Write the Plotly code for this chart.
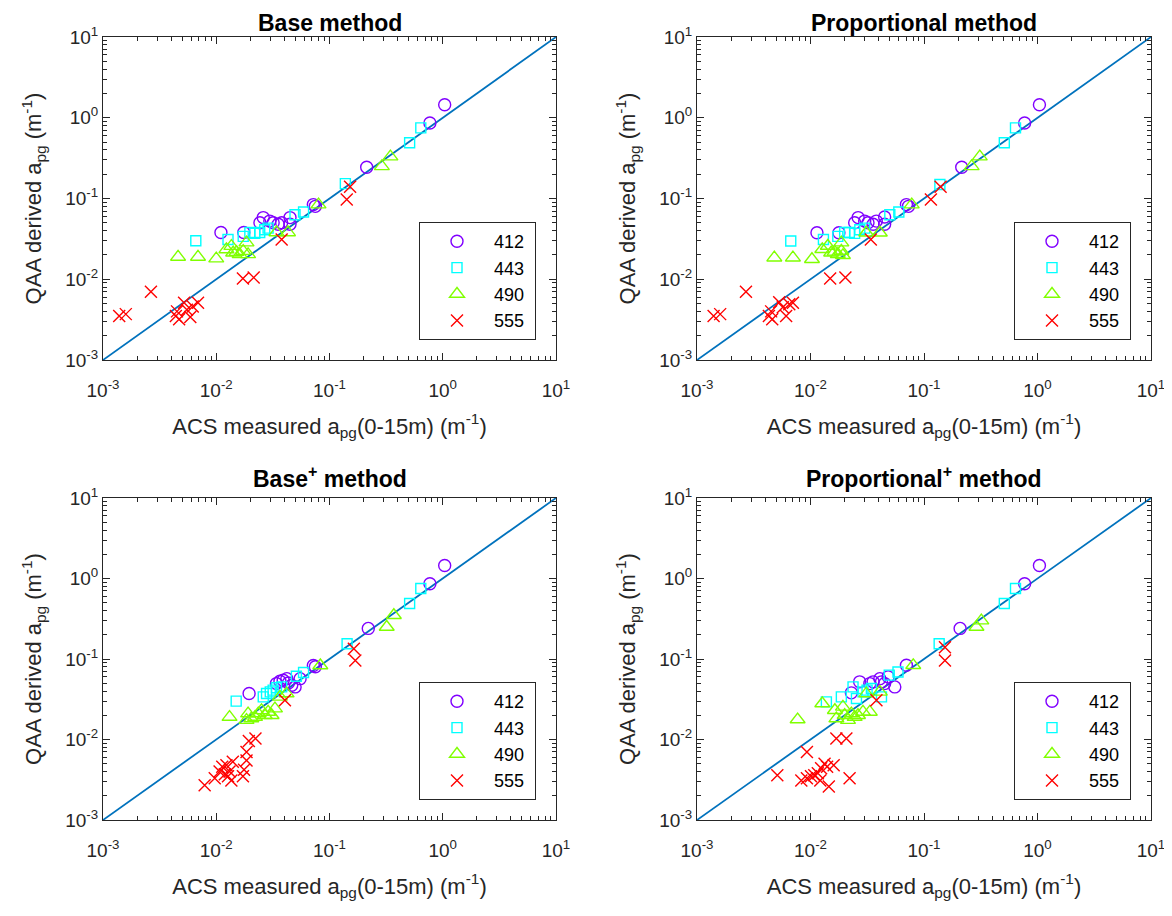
import plotly.graph_objects as go

# ---------------- data ----------------
wavelengths = ["412", "443", "490", "555"]
titles = ["Base method", "Proportional method", "Base<sup>+</sup> method", "Proportional<sup>+</sup> method"]
one_to_one = [0.001, 10]
decade_ticks = [0.001, 0.01, 0.1, 1, 10]
decade_labels = ["10<sup>-3</sup>", "10<sup>-2</sup>", "10<sup>-1</sup>", "10<sup>0</sup>", "10<sup>1</sup>"]

# Panel 1: Base method
base_412_x = [0.011, 0.0175, 0.0243, 0.026, 0.0297, 0.0318, 0.0352, 0.0378, 0.0448, 0.0448, 0.072, 0.075, 0.213, 0.77, 1.04]
base_412_y = [0.038, 0.038, 0.050, 0.058, 0.0525, 0.050, 0.048, 0.050, 0.058, 0.048, 0.084, 0.080, 0.244, 0.86, 1.45]
base_443_x = [0.0066, 0.0127, 0.0173, 0.0198, 0.0219, 0.0242, 0.0268, 0.0287, 0.0496, 0.059, 0.138, 0.51, 0.64]
base_443_y = [0.030, 0.031, 0.034, 0.038, 0.037, 0.038, 0.041, 0.043, 0.063, 0.068, 0.153, 0.49, 0.75]
base_490_x = [0.0046, 0.0069, 0.010, 0.0123, 0.0136, 0.0141, 0.0151, 0.0161, 0.0173, 0.0185, 0.0191, 0.034, 0.043, 0.08, 0.29, 0.345]
base_490_y = [0.0189, 0.0189, 0.018, 0.0234, 0.0257, 0.0213, 0.0217, 0.0203, 0.0223, 0.0284, 0.0203, 0.038, 0.038, 0.084, 0.25, 0.33]
base_555_x = [0.00139, 0.00159, 0.00265, 0.0044, 0.0047, 0.0045, 0.0052, 0.0055, 0.0059, 0.0062, 0.0069, 0.0172, 0.0214, 0.0378, 0.142, 0.152]
base_555_y = [0.0035, 0.0037, 0.0070, 0.0035, 0.0032, 0.0040, 0.0051, 0.0042, 0.0034, 0.0046, 0.0051, 0.0102, 0.0105, 0.031, 0.097, 0.14]

# Panel 2: Proportional method
prop_412_x = [0.0114, 0.0178, 0.0263, 0.0245, 0.030, 0.0321, 0.0356, 0.038, 0.045, 0.045, 0.070, 0.073, 0.215, 0.77, 1.04]
prop_412_y = [0.0377, 0.0377, 0.058, 0.050, 0.0525, 0.050, 0.048, 0.0525, 0.059, 0.048, 0.084, 0.080, 0.244, 0.86, 1.45]
prop_443_x = [0.0067, 0.0130, 0.0174, 0.020, 0.022, 0.0245, 0.0272, 0.030, 0.050, 0.060, 0.138, 0.51, 0.64]
prop_443_y = [0.0298, 0.031, 0.034, 0.038, 0.038, 0.037, 0.041, 0.043, 0.063, 0.068, 0.149, 0.49, 0.75]
prop_490_x = [0.0048, 0.0070, 0.0103, 0.0127, 0.0142, 0.0152, 0.0163, 0.0174, 0.0187, 0.0187, 0.0193, 0.031, 0.0408, 0.078, 0.263, 0.31]
prop_490_y = [0.0185, 0.0185, 0.0177, 0.0235, 0.0258, 0.0213, 0.0218, 0.0204, 0.0224, 0.0284, 0.0198, 0.0377, 0.0377, 0.084, 0.25, 0.33]
prop_555_x = [0.0014, 0.0016, 0.0027, 0.0043, 0.0046, 0.0045, 0.0053, 0.0057, 0.0061, 0.0065, 0.0070, 0.0149, 0.0203, 0.034, 0.115, 0.14]
prop_555_y = [0.0035, 0.0037, 0.0070, 0.0035, 0.0032, 0.0040, 0.0052, 0.0045, 0.0035, 0.0049, 0.0051, 0.0102, 0.0105, 0.031, 0.097, 0.14]

# Panel 3: Base+ method
basep_412_x = [0.0195, 0.034, 0.0365, 0.039, 0.042, 0.0433, 0.0464, 0.0497, 0.055, 0.072, 0.075, 0.22, 0.77, 1.04]
basep_412_y = [0.0372, 0.0495, 0.0529, 0.0544, 0.057, 0.0504, 0.0472, 0.045, 0.057, 0.083, 0.080, 0.24, 0.86, 1.45]
basep_443_x = [0.015, 0.026, 0.0278, 0.030, 0.0318, 0.034, 0.0378, 0.051, 0.059, 0.143, 0.51, 0.64]
basep_443_y = [0.030, 0.0338, 0.0372, 0.039, 0.041, 0.044, 0.045, 0.061, 0.068, 0.155, 0.49, 0.75]
basep_490_x = [0.0131, 0.0191, 0.0185, 0.0204, 0.022, 0.0235, 0.0251, 0.0268, 0.0287, 0.0308, 0.033, 0.0365, 0.0418, 0.083, 0.32, 0.37]
basep_490_y = [0.019, 0.021, 0.0174, 0.0182, 0.019, 0.021, 0.023, 0.020, 0.022, 0.020, 0.0242, 0.0338, 0.0372, 0.083, 0.25, 0.35]
basep_555_x = [0.0079, 0.0097, 0.0107, 0.0113, 0.0119, 0.0123, 0.0127, 0.0131, 0.0136, 0.014, 0.0172, 0.0176, 0.0185, 0.0185, 0.0194, 0.0222, 0.0404, 0.164, 0.169]
basep_555_y = [0.0027, 0.0033, 0.0040, 0.0046, 0.0037, 0.0048, 0.0035, 0.0040, 0.0031, 0.0053, 0.0035, 0.0042, 0.0055, 0.0070, 0.0096, 0.0103, 0.0308, 0.134, 0.096]

# Panel 4: Proportional+ method
propp_412_x = [0.0229, 0.0271, 0.0333, 0.0356, 0.0408, 0.0422, 0.045, 0.0483, 0.0553, 0.070, 0.208, 0.77, 1.04]
propp_412_y = [0.038, 0.052, 0.0495, 0.052, 0.057, 0.052, 0.0495, 0.060, 0.045, 0.0835, 0.24, 0.86, 1.45]
propp_443_x = [0.0138, 0.0187, 0.0237, 0.0254, 0.029, 0.0315, 0.0344, 0.0422, 0.0494, 0.059, 0.136, 0.51, 0.64]
propp_443_y = [0.0293, 0.0338, 0.045, 0.0323, 0.039, 0.041, 0.043, 0.0338, 0.063, 0.069, 0.155, 0.49, 0.75]
propp_490_x = [0.0077, 0.0127, 0.0164, 0.0169, 0.0193, 0.020, 0.0214, 0.0229, 0.0245, 0.0262, 0.029, 0.0333, 0.031, 0.0408, 0.0804, 0.29, 0.32]
propp_490_y = [0.0177, 0.028, 0.0231, 0.0182, 0.0254, 0.020, 0.0174, 0.021, 0.019, 0.020, 0.022, 0.022, 0.0372, 0.039, 0.0835, 0.25, 0.30]
propp_555_x = [0.0051, 0.0093, 0.0083, 0.0093, 0.0101, 0.0108, 0.0116, 0.0122, 0.0124, 0.0133, 0.0140, 0.0145, 0.016, 0.0169, 0.0207, 0.0221, 0.0381, 0.153, 0.153]
propp_555_y = [0.0036, 0.0070, 0.0031, 0.0033, 0.0035, 0.0036, 0.0038, 0.0031, 0.0044, 0.0050, 0.0046, 0.0026, 0.0048, 0.0103, 0.0103, 0.0033, 0.0308, 0.14, 0.096]

panels = [
    [(base_412_x, base_412_y), (base_443_x, base_443_y), (base_490_x, base_490_y), (base_555_x, base_555_y)],
    [(prop_412_x, prop_412_y), (prop_443_x, prop_443_y), (prop_490_x, prop_490_y), (prop_555_x, prop_555_y)],
    [(basep_412_x, basep_412_y), (basep_443_x, basep_443_y), (basep_490_x, basep_490_y), (basep_555_x, basep_555_y)],
    [(propp_412_x, propp_412_y), (propp_443_x, propp_443_y), (propp_490_x, propp_490_y), (propp_555_x, propp_555_y)],
]

# ---------------- style ----------------
OFF = 8                      # page body margin
W, H = 1172 - OFF, 916 - OFF
FONT = "Liberation Sans, Arial, sans-serif"
AXC = "#262626"
colors = ["#8000FF", "#00FFFF", "#80FF00", "#FF0000"]
symbols = ["circle-open", "square-open", "triangle-up-open", "x-thin-open"]
sizes = [12, 10, 13, 12]
minor_vals = [m * d for d in [0.001, 0.01, 0.1, 1] for m in range(2, 10)]

# panel pixel boxes in screen coords (left, right, top, bottom)
boxes = [(103, 556, 37, 360), (697, 1151, 37, 360), (103, 556, 498, 820), (697, 1151, 498, 820)]
# title tops in screen coords
title_top = [8, 8, 460, 460]

fig = go.Figure()
layout = dict(
    width=W, height=H, margin=dict(l=0, r=0, t=0, b=0, autoexpand=False),
    paper_bgcolor="white", plot_bgcolor="white",
    font=dict(family=FONT, color=AXC, size=15),
    annotations=[],
)

for p in range(4):
    xa = "x" if p == 0 else f"x{p+1}"
    ya = "y" if p == 0 else f"y{p+1}"
    lg = "legend" if p == 0 else f"legend{p+1}"
    l, r, t, b = [v - OFF for v in boxes[p]]
    # 1:1 line
    fig.add_trace(go.Scatter(x=one_to_one, y=one_to_one, mode="lines",
                             line=dict(color="#0072BD", width=1.8),
                             xaxis=xa, yaxis=ya, showlegend=False, hoverinfo="skip"))
    for k in range(4):
        xs, ys = panels[p][k]
        fig.add_trace(go.Scatter(
            x=xs, y=ys, mode="markers", name=wavelengths[k] + "\u00a0",
            marker=dict(symbol=symbols[k], size=sizes[k], color=colors[k],
                        line=dict(color=colors[k], width=1.4)),
            xaxis=xa, yaxis=ya, legend=lg, cliponaxis=False))
    axcommon = dict(type="log", range=[-3, 1], tickmode="array", tickvals=decade_ticks, ticktext=decade_labels,
                    showgrid=False, zeroline=False, automargin=False,
                    showline=True, linecolor=AXC, linewidth=1, mirror="ticks",
                    ticks="inside", ticklen=7, tickcolor=AXC, tickwidth=1,
                    tickfont=dict(size=19, color=AXC, family=FONT),
                    minor=dict(ticks="inside", ticklen=4, tickcolor=AXC, tickwidth=1,
                               tickmode="array", tickvals=minor_vals, showgrid=False))
    layout[("xaxis" if p == 0 else f"xaxis{p+1}")] = dict(
        axcommon, domain=[l / W, r / W], anchor=ya, ticklabelstandoff=13,
        title=dict(text="ACS measured a<sub>pg</sub>(0-15m) (m<sup>-1</sup>)", font=dict(size=22, color=AXC, family=FONT), standoff=18))
    layout[("yaxis" if p == 0 else f"yaxis{p+1}")] = dict(
        axcommon, domain=[1 - b / H, 1 - t / H], anchor=xa,
        title=dict(text="QAA derived a<sub>pg</sub> (m<sup>-1</sup>)", font=dict(size=22, color=AXC, family=FONT), standoff=17))
    layout[lg] = dict(x=(r - 20) / W, y=1 - (b - 20) / H, xanchor="right", yanchor="bottom",
                      bgcolor="white", bordercolor=AXC, borderwidth=1,
                      font=dict(size=18, color="#000000", family=FONT),
                      itemwidth=64, tracegroupgap=4)
    layout["annotations"].append(dict(text="<b>" + titles[p] + "</b>", x=(l + r) / 2 / W,
                                      y=1 - (title_top[p] - OFF) / H,
                                      xref="paper", yref="paper", showarrow=False,
                                      font=dict(size=23, color="#000000", family=FONT),
                                      xanchor="center", yanchor="top"))

fig.update_layout(**layout)
fig.write_html("out.html")
